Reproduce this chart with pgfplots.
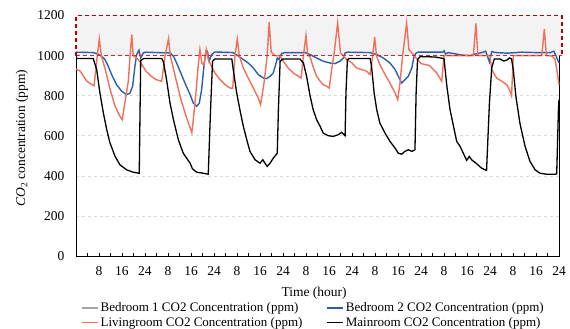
\documentclass[border=0pt]{standalone}
\usepackage{pgfplots}
\pgfplotsset{compat=1.18}
\usepackage{fontspec}
\setmainfont{Liberation Serif}
\definecolor{cblue}{RGB}{40,95,172}
\definecolor{corange}{RGB}{240,112,90}
\definecolor{cgrayl}{RGB}{165,165,165}
\definecolor{boxfill}{RGB}{243,243,243}
\definecolor{dred}{RGB}{192,0,0}
\definecolor{lred}{RGB}{240,30,30}
\definecolor{gridc}{RGB}{217,217,217}
\begin{document}
\begin{tikzpicture}
\begin{axis}[
  scale only axis, width=483pt, height=240.5pt,
  xmin=0, xmax=168, ymin=0, ymax=1200,
  clip=false,
  ytick={0,200,...,1200},
  xtick={8,16,...,168},
  xticklabels={8,16,24,8,16,24,8,16,24,8,16,24,8,16,24,8,16,24,8,16,24},
  minor xtick={4,12,...,164},
  xtick pos=bottom, ytick pos=left,
  tick align=inside,
  major tick length=3pt, minor tick length=3pt,
  ytick style={draw=none},
  xtick style={black, line width=0.5pt},
  ymajorgrids, grid style={gridc, dashed, line width=0.6pt},
  axis line style={black, line width=0.8pt},
  tick label style={font=\fontsize{13.5}{15}\selectfont},
  /pgf/number format/assume math mode=true,
  /pgf/number format/1000 sep={},
  yticklabel style={xshift=-8pt},
  xticklabel style={yshift=-7pt},
  ylabel={\fontsize{13.5}{15}\selectfont\textit{CO}\textsubscript{2} concentration (ppm)},
  ylabel style={at={(axis description cs:-0.112,0.49)}, anchor=center},
  xlabel={\fontsize{13.5}{15}\selectfont Time (hour)},
  xlabel style={at={(axis description cs:0.493,0)}, anchor=center, yshift=-37pt},
  legend style={draw=none, fill=none, at={(axis description cs:0.0104,-0.186)}, anchor=north west,
    legend columns=2, font=\fontsize{13}{15}\selectfont,
    /tikz/every even column/.append style={column sep=22pt}, row sep=0pt, inner sep=0pt},
  legend cell align=left,
  legend image code/.code={\draw[#1] (0pt,0pt) -- (16pt,0pt);},
]
\fill[boxfill] (axis cs:0,1000) rectangle (axis cs:169,1200);

\addplot[cblue, line width=1.4pt, forget plot] coordinates {
(0,1017) (6,1015) (7.5,1008) (8.9,997) (10.1,980) (11.2,947) (12.4,905) (14.1,855)
(15.9,822) (17.6,805) (18.8,813) (19.7,847) (20.5,947) (21.1,1005) (21.9,1027) (22.5,988)
(23.4,1013) (24.2,1017) (32.7,1013) (33.9,997) (35,963) (36.2,922) (37.9,863) (39.7,805)
(40.8,763) (42,747) (42.9,763) (43.7,830) (44.5,947) (45.2,1022) (45.7,1022) (46.3,972)
(47.2,1005) (48.3,1018) (54.7,1015) (56.5,997) (58.2,980) (59.9,963) (61.7,938) (63.4,905)
(65.2,888) (66.3,885) (67.5,897) (68.6,913) (69.6,963) (70,988) (70.6,980) (71.5,1010)
(72.5,1015) (79.7,1015) (81.4,1005) (83.7,988) (86,972) (88.3,963) (90.1,960) (91.8,972)
(93,988) (93.6,1013) (94.5,1017) (102.3,1015) (104.6,1005) (106.9,988) (109.2,963) (111,930)
(112.1,897) (113.3,863) (114.4,880) (115.6,897) (116.8,938) (117.6,997) (118.3,1013) (119,1017)
(127.5,1017) (128,1024) (128.5,1008) (129.5,1015) (134,1003) (137,1000) (139.5,1010) (141.5,1016)
(142.5,1022) (143.8,968) (144.6,1020) (146,1015) (150,1012) (155,1017) (160,1015) (165,1015)
(166.2,1022) (167,997) (168,963)
};

\addplot[corange, line width=1.4pt, forget plot] coordinates {
(0,933) (1.5,922) (2.6,897) (3.8,872) (5,860) (6.3,850) (7.4,1000) (8.1,1083) (8.8,1000)
(10.2,930) (11.9,830) (13.6,747) (15.3,697) (16.1,680) (17,765) (18.2,872) (18.8,1000)
(19.4,1105) (19.9,1000) (21,990) (22.7,960) (24.4,921) (26.1,897) (27.9,880) (29.8,872)
(31,1000) (32.2,1085) (32.8,1000) (34.8,880) (36.5,780) (38.3,697) (39.7,640) (40.3,615)
(40.8,680) (41.7,813) (42.5,947) (43.1,1030) (43.8,960) (44.5,955) (45.3,1030) (46,980)
(46.6,963) (48.3,913) (50.1,880) (51.8,855) (53.6,838) (54.5,837) (55.3,1000) (56.1,1083)
(56.8,1000) (58.2,938) (59.9,888) (61.7,838) (63.4,788) (64.2,755) (65.4,863) (66.5,1000)
(67.2,1167) (67.9,1017) (69.1,1000) (71,998) (72.1,972) (73.8,938) (75.6,913) (77.3,897)
(78.3,888) (79.1,1000) (80,1100) (80.6,1000) (81.4,995) (82.6,938) (83.7,897) (84.9,872)
(86,855) (87.2,847) (88.1,838) (88.9,930) (89.7,1000) (91,1163) (92,1013) (93,1000)
(94.1,980) (95.9,965) (97.6,938) (99.4,930) (101.1,922) (102.3,905) (103.2,1000) (103.9,1093)
(104.5,1000) (105.7,955) (107.5,905) (109.2,863) (111,813) (111.9,780) (112.7,863) (113.6,1000)
(115,1163) (115.8,1030) (117,1010) (118.5,985) (120,960) (123,950) (125.5,913) (127.2,872)
(128,1000) (138.2,1000) (139.1,1160) (139.8,1000) (144,1000) (144.6,930) (146.3,888) (148.1,872)
(149.8,855) (151,822) (151.5,800) (152.1,1000) (162,1000) (162.9,1133) (163.6,1000) (165.5,998)
(166.6,983) (167.5,905) (168,855)
};

\addplot[black, line width=1.3pt, forget plot] coordinates {
(0,985) (6,985) (7.2,930) (8.3,815) (9.5,715) (10.7,630) (11.8,565) (13.6,497) (15.3,455)
(17.6,430) (19.9,418) (22,413) (22.5,975) (23.5,985) (29.8,985) (30.4,970) (31.5,880)
(32.7,763) (33.9,680) (35.6,580) (37.3,513) (39.7,463) (40.5,435) (42,418) (44.3,413)
(46,408) (46.8,730) (47.5,972) (48.3,983) (54.2,983) (54.7,930) (55.9,813) (57,730)
(58.2,647) (59.4,580) (60.5,522) (62.3,480) (64,463) (65,480) (65.7,464) (66.5,447)
(67.5,463) (68.6,488) (70,513) (70.4,730) (71,972) (72,983) (77.9,983) (79.1,963)
(80.2,897) (81.4,800) (82.5,730) (83.7,680) (84.9,647) (86,613) (87.8,600) (89.5,597)
(91.2,605) (92.4,617) (93.6,600) (93.9,813) (94.4,980) (95,985) (102.3,985) (102.8,947)
(103.7,813) (104.6,730) (105.7,663) (107.5,613) (109.2,572) (111,538) (112.1,513) (113.3,508)
(114.4,522) (115.6,530) (116.8,522) (117.9,530) (118.3,813) (118.8,980) (119.7,995) (124.9,993)
(128,985) (129,847) (130.1,730) (131.2,655) (132.4,572) (133.6,547) (134.7,513) (135.9,477)
(136.8,497) (137.6,480) (139.4,460) (141.1,438) (142.8,427) (143.8,763) (144.6,938) (145.5,983)
(147.5,983) (148.7,973) (149.8,977) (150.8,988) (151.5,983) (152.1,930) (153,797) (154.4,663)
(156.2,547) (157.9,472) (159.7,430) (161.4,413) (163.7,408) (166.6,408) (167.2,410) (167.8,730)
(168,780)
};

\draw[lred, dash pattern=on 4pt off 3pt, line width=1.3pt] (axis cs:0,1000) -- (axis cs:169,1000);
\draw[dred, dash pattern=on 4pt off 3pt, line width=1.3pt] (axis cs:0,1000) -- (axis cs:0,1200) -- (axis cs:169,1200) -- (axis cs:169,1000);

\addlegendimage{cgrayl, line width=1.4pt}
\addlegendentry{Bedroom 1 CO2 Concentration (ppm)}
\addlegendimage{cblue, line width=1.4pt}
\addlegendentry{Bedroom 2 CO2 Concentration (ppm)}
\addlegendimage{corange, line width=1.4pt}
\addlegendentry{Livingroom CO2 Concentration (ppm)}
\addlegendimage{black, line width=1.4pt}
\addlegendentry{Mainroom CO2 Concentration (ppm)}
\end{axis}
\pgfresetboundingbox
\path[use as bounding box] (-76pt,-73pt) rectangle (494pt,256pt);
\end{tikzpicture}
\end{document}
